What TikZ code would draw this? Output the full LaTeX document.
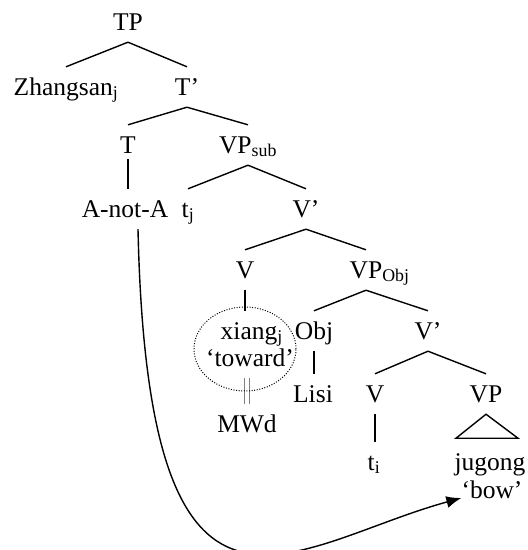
\documentclass[tikz,border=0pt]{standalone}
\usepackage{fontspec}
\setmainfont{Liberation Serif}
\usepackage{tikz}
\usetikzlibrary{arrows.meta}
\tikzset{
    cat/.style={anchor=base, inner xsep=0pt, inner ysep=11pt, text height=17pt, text depth=1pt},
    branch/.style={draw=black, line width=1.4pt},
    bundle/.style={draw=gray, line width=0.7pt, double=white, double distance=4.2pt},
    mwdomain/.style={draw=black, line width=1pt, dash pattern=on 1pt off 1.6pt},
    movement/.style={draw=black, line width=1.4pt, -{Latex[length=15pt,width=12pt]}},
}
\newcommand{\sbs}[1]{\textsubscript{#1}}

\begin{document}
\begin{tikzpicture}[x=1pt, y=-1pt, font=\fontsize{25.5}{30}\selectfont]
	\useasboundingbox (0,0) rectangle (528,550);
	% labels
	\node[cat] (tp) at (128,30) {TP};
	\node[cat] (zhang) at (66,95) {Zhangsan\sbs{j}};
	\node[cat] (tbar) at (187,95) {T'};
	\node[cat] (t) at (128,153) {T};
	\node[cat] (vpsub) at (248,153) {VP\sbs{sub}};
	\node[cat] (anota) at (125,217) {A-not-A};
	\node[cat] (tj) at (188,217) {t\sbs{j}};
	\node[cat] (vbar) at (306,217) {V'};
	\node[cat] (v) at (245,278) {V};
	\node[cat] (vpobj) at (366,278) {VP\rlap{\sbs{Obj}}};
	\node[cat] (xiang) at (249,339) {xiang\rlap{\sbs{j}}};
	\node[cat] (toward) at (250,366) {`toward'};
	\node[cat] (obj) at (314,339) {Obj};
	\node[cat] (vbarb) at (428,339) {V'};
	\node[cat] (lisi) at (313,402) {Lisi};
	\node[cat] (vb) at (375,402) {V};
	\node[cat] (vp) at (486,402) {VP};
	\node[cat] (mwd) at (247,432) {MWd};
	\node[cat] (ti) at (374,470) {t\sbs{i}};
	\node[cat] (jugong) at (490,470) {jugong};
	\node[cat] (bow) at (492,498) {`bow'};
	% branches
	\draw[branch] (tp.south) -- (zhang.north);
	\draw[branch] (tp.south) -- (tbar.north);
	\draw[branch] (tbar.south) -- (t.north);
	\draw[branch] (tbar.south) -- (vpsub.north);
	\draw[branch] ([yshift=6pt]t.south) -- (t.south |- anota.north);
	\draw[branch] (vpsub.south) -- (tj.north);
	\draw[branch] (vpsub.south) -- (vbar.north);
	\draw[branch] (vbar.south) -- (v.north);
	\draw[branch] (vbar.south) -- (vpobj.north);
	\draw[branch] (v.south) -- (v.south |- xiang.north);
	\draw[branch] (vpobj.south) -- (obj.north);
	\draw[branch] (vpobj.south) -- (vbarb.north);
	\draw[branch] (obj.south) -- (obj.south |- lisi.north);
	\draw[branch] (vbarb.south) -- (vb.north);
	\draw[branch] (vbarb.south) -- (vp.north);
	\draw[branch] (vb.south) -- (vb.south |- ti.north);
	\draw[branch] (vp.south) -- ++(-30,24) -- ++(62,0) -- cycle;
	% morphological word
	\draw[bundle] (mwd.north) -- (mwd.north |- toward.south);
	\draw[mwdomain] (245,349) ellipse [x radius=51pt, y radius=42pt];
	% head movement
	\draw[movement] ([xshift=13pt]anota.south) .. controls (148,680) and (290,545) .. (bow.base west);
\end{tikzpicture}
\end{document}
